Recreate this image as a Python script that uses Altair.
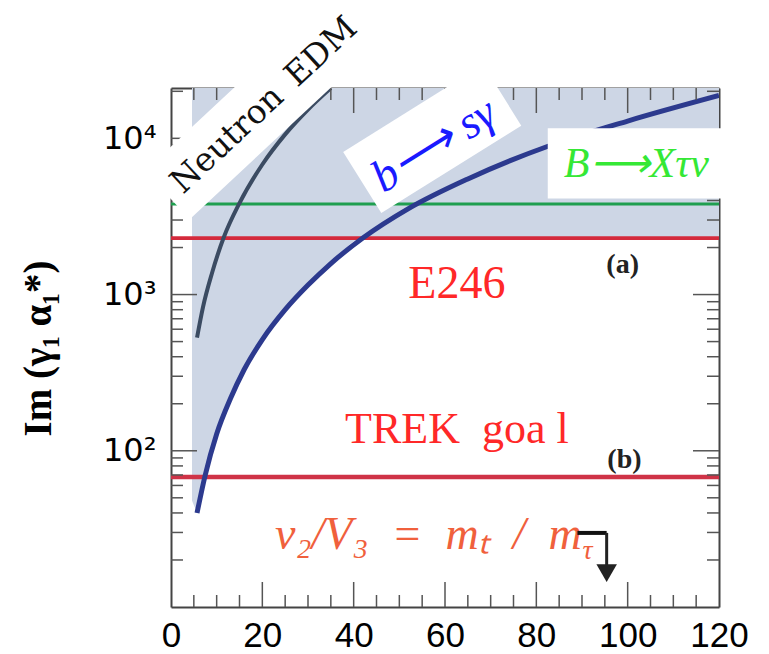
import altair as alt
import pandas as pd

W, H = 548, 519
X_DOMAIN = [0, 120]
Y_DOMAIN = [10, 21000]

# b -> s gamma bound
BSG_X = [5.7, 7.5, 10, 13, 16, 20, 25, 30, 35, 42, 52, 65, 83, 100, 120]
BSG_Y = [40, 70, 128, 215, 330, 515, 800, 1150, 1580, 2300, 3550, 5500, 9000, 12900, 18800]
# Neutron EDM bound
EDM_X = [5.7, 7, 9, 11.5, 15, 20, 25, 30, 35]
EDM_Y = [530, 830, 1380, 2300, 3850, 6800, 10600, 15300, 21000]
# excluded (shaded) region
SHADE_X = [4.6, 5.7, 7.5, 10, 13, 16, 20, 25, 30, 35, 42, 120]
SHADE_LO = [48, 42, 72, 130, 218, 332, 520, 805, 1155, 1590, 2300, 2300]
SHADE_HI = [21000, 21000, 21000, 21000, 21000, 21000, 21000, 21000, 21000, 21000, 21000, 21000]

# horizontal limits
LIMIT_NAMES = ["B→Xτν", "E246", "TREK goal"]
LIMIT_Y = [3800, 2300, 68]
LIMIT_COLORS = ["#1f9e4f", "#d42a3c", "#cf3347"]
LIMIT_WIDTHS = [3, 4.5, 3]

# axis ticks
X_LABELS = [0, 20, 40, 60, 80, 100, 120]
X_MAJOR = [20, 40, 60, 80, 100]
X_MINOR = [5, 10, 15, 25, 30, 35, 45, 50, 55, 65, 70, 75, 85, 90, 95, 105, 110, 115]
Y_MAJOR = [100, 1000, 10000]
Y_MINOR = [20, 30, 40, 50, 60, 70, 80, 90, 200, 300, 400, 500, 600, 700, 800, 900,
           2000, 3000, 4000, 5000, 6000, 7000, 8000, 9000, 20000]

# annotation anchors (data coordinates)
NEUTRON_BOX = [20.96, 16990]
BSG_BOX = [57.2, 9930]
BXTN_BOX_X = [82.5, 120.8]
BXTN_BOX_Y = [4120, 11590]
ARROW_X = [89, 95.4]
ARROW_Y = [29.8, 18.3, 16.5]

xs = alt.Scale(domain=X_DOMAIN, nice=False, zero=False)
ys = alt.Scale(type="log", domain=Y_DOMAIN, nice=False)

FRAME = "#444444"
SP = "\u2002"


def X(field="x"):
    return alt.X(f"{field}:Q", scale=xs, axis=None)


def Y(field="y"):
    return alt.Y(f"{field}:Q", scale=ys, axis=None)


shade_df = pd.DataFrame({"x": SHADE_X, "lo": SHADE_LO, "hi": SHADE_HI})
shade = alt.Chart(shade_df).mark_area(color="#cdd6e5", interpolate="monotone", clip=True).encode(
    x=alt.X("x:Q", scale=xs, axis=alt.Axis(
        orient="bottom", values=X_LABELS, ticks=False, grid=False,
        domainColor=FRAME, domainWidth=2, labelFont="Liberation Sans",
        labelFontSize=35, labelColor="black", labelPadding=11, labelFlush=False,
        title=None)),
    y=alt.Y("lo:Q", scale=ys, axis=alt.Axis(
        orient="left", values=Y_MAJOR, ticks=False, grid=False,
        domainColor=FRAME, domainWidth=2, labelFont="DejaVu Sans",
        labelFontSize=32, labelColor="black", labelPadding=15, labelFlush=False,
        labelExpr="datum.value >= 9999 ? '10⁴' : (datum.value >= 999 ? '10³' : '10²')",
        title="Im (γ₁ α₁*)", titleFont="Liberation Serif", titleFontSize=39,
        titleFontWeight="bold", titleColor="black", titleX=-133, titleY=260,
        titleBaseline="middle", titleAngle=270)),
    y2="hi:Q",
)

bsg_df = pd.DataFrame({"x": BSG_X, "y": BSG_Y})
bsg = alt.Chart(bsg_df).mark_line(color="#2c3a8e", strokeWidth=5, interpolate="monotone", clip=True).encode(
    x=alt.X("x:Q", scale=xs, axis=alt.Axis(orient="top", labels=False, ticks=False, grid=False,
                                           domainColor=FRAME, domainWidth=2, title=None)),
    y=alt.Y("y:Q", scale=ys, axis=alt.Axis(orient="right", labels=False, ticks=False, grid=False,
                                           domainColor=FRAME, domainWidth=2, title=None)),
)

edm_df = pd.DataFrame({"x": EDM_X, "y": EDM_Y})
edm = alt.Chart(edm_df).mark_line(color="#3b4b62", strokeWidth=4, interpolate="monotone", clip=True).encode(
    x=X(), y=Y())

lim_df = pd.DataFrame({"name": LIMIT_NAMES, "y": LIMIT_Y})
limits = alt.Chart(lim_df).mark_rule().encode(
    y=Y(),
    color=alt.Color("name:N", scale=alt.Scale(domain=LIMIT_NAMES, range=LIMIT_COLORS), legend=None),
    strokeWidth=alt.StrokeWidth("name:N", scale=alt.Scale(domain=LIMIT_NAMES, range=LIMIT_WIDTHS), legend=None),
)


def xticks(vals, p1, p2):
    return alt.Chart(pd.DataFrame({"x": vals})).mark_rule(color="#555555", strokeWidth=1.5).encode(
        x=X(), y=alt.value(p1), y2=alt.value(p2))


def yticks(vals, p1, p2):
    return alt.Chart(pd.DataFrame({"y": vals})).mark_rule(color="#555555", strokeWidth=1.5).encode(
        y=Y(), x=alt.value(p1), x2=alt.value(p2))


ticks = [
    xticks(X_MAJOR, H, H - 25), xticks(X_MINOR, H, H - 12),
    xticks(X_MAJOR, 0, 25), xticks(X_MINOR, 0, 12),
    yticks(Y_MAJOR, 0, 26), yticks(Y_MINOR, 0, 12),
    yticks(Y_MAJOR, W, W - 26), yticks(Y_MINOR, W, W - 12),
]


def box(center, width, height, angle):
    h = height / width
    path = f"M-1,-{h:.4f}L1,-{h:.4f}L1,{h:.4f}L-1,{h:.4f}Z"
    return alt.Chart(pd.DataFrame({"x": [center[0]], "y": [center[1]]})).mark_point(
        shape=path, filled=True, color="white", opacity=1, strokeWidth=0,
        size=width * width, angle=angle, clip=False).encode(x=X(), y=Y())


neutron_box = box(NEUTRON_BOX, 272, 66, 317)
bsg_box = box(BSG_BOX, 165, 72, 328)
bxtn_box = alt.Chart(pd.DataFrame({"x": [BXTN_BOX_X[0]], "x2": [BXTN_BOX_X[1]],
                                   "y": [BXTN_BOX_Y[0]], "y2": [BXTN_BOX_Y[1]]})).mark_rect(
    color="white", clip=False).encode(x=X(), x2="x2:Q", y=Y(), y2="y2:Q")


def label(t, x, y, **kw):
    return alt.Chart(pd.DataFrame({"x": [x], "y": [y], "t": [t]})).mark_text(clip=False, **kw).encode(
        x=X(), y=Y(), text="t:N")


texts = [
    label(f"Neutron{SP}EDM", 20.4, 16270, angle=317, font="DejaVu Serif", fontSize=33, color="#111111"),
    label("b⟶ sγ", 57.6, 9020, angle=328, font="Liberation Serif", fontStyle="italic", fontSize=46, color="#1a1aff"),
    label("B⟶Xτν", 101.9, 6810, font="Liberation Serif", fontStyle="italic", fontSize=42, color="#35e835"),
    label("E246", 62.6, 1175, font="Liberation Serif", fontSize=46, color="#ff2828"),
    label(f"TREK{SP}goa l", 62.6, 136, font="Liberation Serif", fontSize=44, color="#ff2828"),
    label("(a)", 98.9, 1535, font="Liberation Serif", fontWeight="bold", fontSize=28, color="#222222"),
    label("(b)", 99.3, 87.5, font="Liberation Serif", fontWeight="bold", fontSize=28, color="#222222"),
    label(f"v₂/V₃{SP}={SP}mₜ{SP}/{SP}m", 22.8, 23.5, align="left", baseline="alphabetic",
          font="Liberation Serif", fontStyle="italic", fontSize=46, color="#f0603c"),
    label("τ", 90.1, 20.3, align="left", baseline="alphabetic", font="Liberation Serif",
          fontStyle="italic", fontSize=28, color="#f0603c"),
]

arrow_bar = alt.Chart(pd.DataFrame({"x": [ARROW_X[0]], "x2": [ARROW_X[1]], "y": [ARROW_Y[0]]})).mark_rule(
    color="#111111", strokeWidth=4).encode(x=X(), x2="x2:Q", y=Y())
arrow_stem = alt.Chart(pd.DataFrame({"x": [ARROW_X[1]], "y": [ARROW_Y[0]], "y2": [ARROW_Y[1]]})).mark_rule(
    color="#222222", strokeWidth=3).encode(x=X(), y=Y(), y2="y2:Q")
arrow_head = alt.Chart(pd.DataFrame({"x": [ARROW_X[1]], "y": [ARROW_Y[2]]})).mark_point(
    shape="triangle-down", filled=True, color="#222222", opacity=1, size=420).encode(x=X(), y=Y())

chart = alt.layer(
    shade, limits, edm, bsg, *ticks, neutron_box, bsg_box, bxtn_box, *texts,
    arrow_bar, arrow_stem, arrow_head,
).resolve_axis(x="independent", y="independent").properties(
    width=W, height=H,
    autosize=alt.AutoSizeParams(type="none"),
    padding={"left": 163, "top": 80, "right": 40, "bottom": 46},
).configure_view(stroke=None)

chart.save("out.html", embed_options={"renderer": "svg", "actions": False})
